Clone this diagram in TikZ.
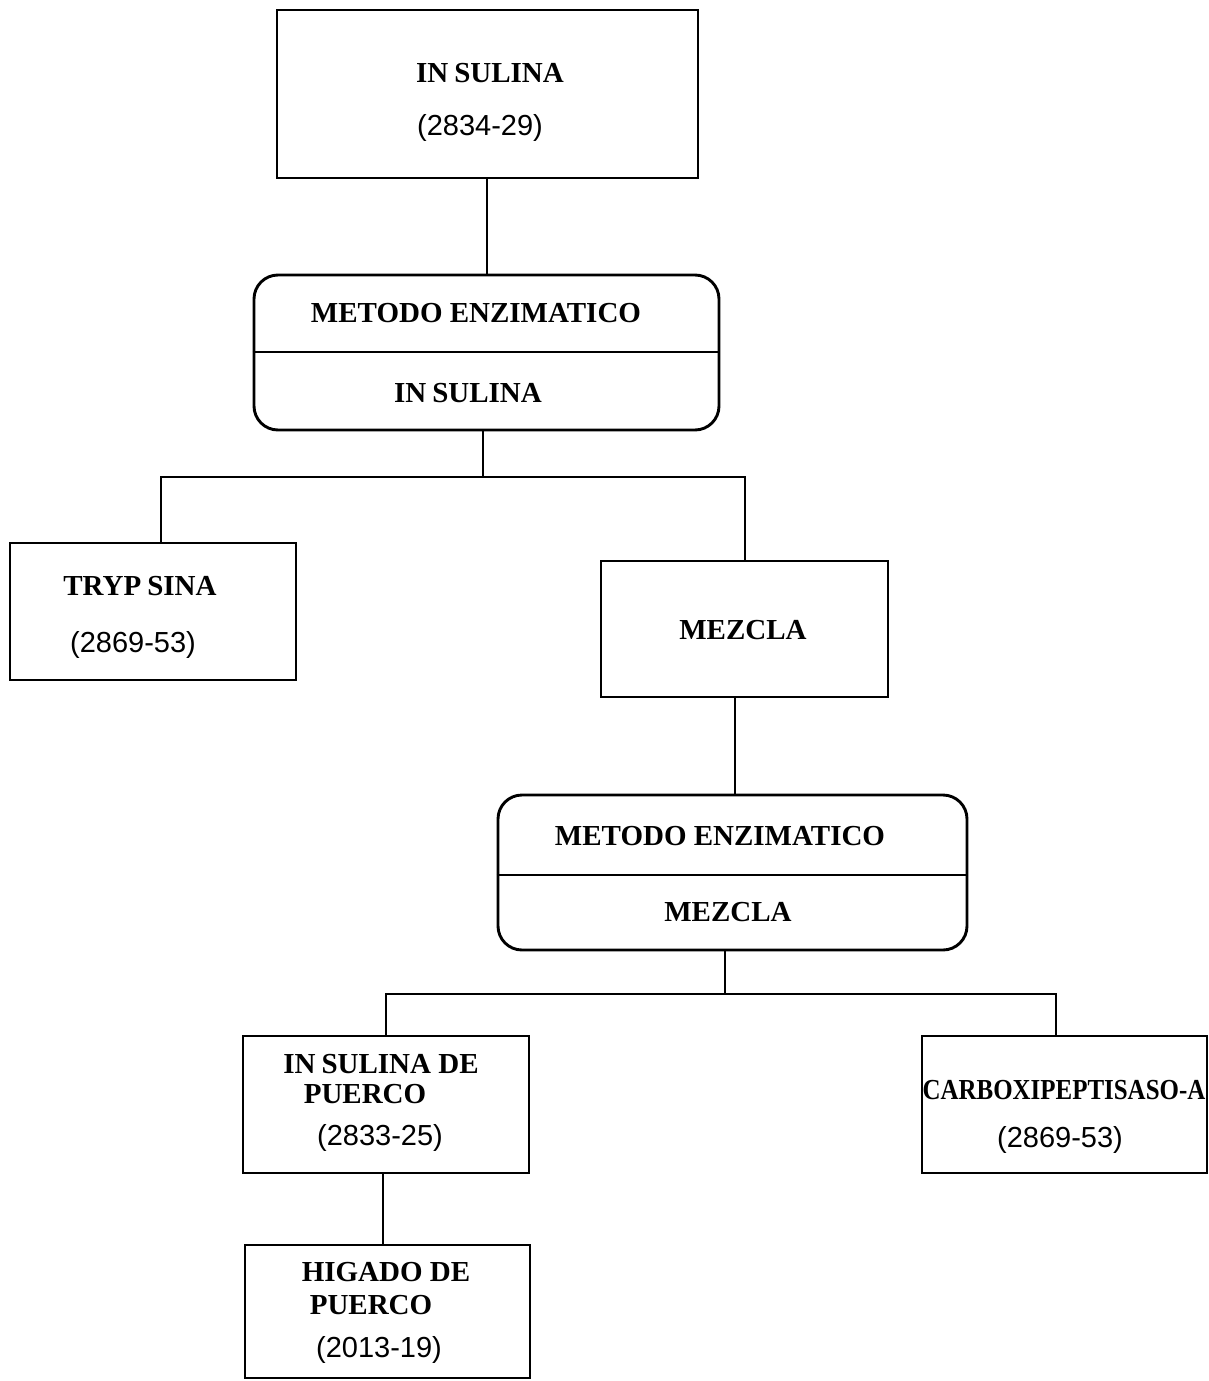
\documentclass[tikz,border=0pt]{standalone}
\usepackage{fontspec}
\setmainfont{Liberation Serif}
\newfontfamily\numfont{Liberation Sans}
\begin{document}
\begin{tikzpicture}[x=0.5pt,y=-0.5pt,
  box/.style={draw,line width=1.45pt,rectangle,inner sep=0pt},
  rbox/.style={draw,line width=1.45pt,rectangle,rounded corners=12pt,inner sep=0pt},
  lbl/.style={font=\fontsize{14.5}{16}\selectfont\bfseries,inner sep=0pt},
  num/.style={font=\numfont\fontsize{14.5}{16}\selectfont,inner sep=0pt},
  link/.style={line width=1.45pt}]
\useasboundingbox (0,0) rectangle (1209,1381);

% boxes
\node[box] (top) at (487.5,94) [minimum width=210.5pt,minimum height=84pt] {};
\node[rbox] (rb1) at (486.5,352.5) [minimum width=232.5pt,minimum height=77.5pt] {};
\node[box] (tryp) at (153,611.5) [minimum width=143pt,minimum height=68.5pt] {};
\node[box] (mez) at (744.5,629) [minimum width=143.5pt,minimum height=68pt] {};
\node[rbox] (rb2) at (732.5,872.5) [minimum width=234.5pt,minimum height=77.5pt] {};
\node[box] (ipu) at (386,1104.5) [minimum width=143pt,minimum height=68.5pt] {};
\node[box] (carb) at (1064.5,1104.5) [minimum width=142.5pt,minimum height=68.5pt] {};
\node[box] (hig) at (387.5,1311.5) [minimum width=142.5pt,minimum height=66.5pt] {};

% dividers inside the rounded boxes
\coordinate (d1) at (0,352);
\coordinate (d2) at (0,875);
\draw[link] (rb1.west |- d1) -- (rb1.east |- d1);
\draw[link] (rb2.west |- d2) -- (rb2.east |- d2);

% texts
\node[lbl] (t1a) at (490,73) {IN\kern3pt SULINA};
\node[num] (t1b) at (480,128) {(2834-29)};
\node[lbl] (r1a) at (476,313) {METODO ENZIMATICO};
\node[lbl] (r1b) at (468,393) {IN\kern3pt SULINA};
\node[lbl] (tra) at (140,586) {TRYP\kern3pt SINA};
\node[num] (trb) at (133,645) {(2869-53)};
\node[lbl] (mza) at (743,630) {MEZCLA};
\node[lbl] (r2a) at (720,836) {METODO ENZIMATICO};
\node[lbl] (r2b) at (728,912) {MEZCLA};
\node[lbl] (ipa) at (381,1064) {IN\kern3pt SULINA DE};
\node[lbl] (ipb) at (365,1094) {PUERCO};
\node[num] (ipc) at (380,1138) {(2833-25)};
\node[lbl] (caa) at (1064,1090) {\scalebox{0.86}[1]{CARBOXIPEPTISASO-A}};
\node[num] (cab) at (1060,1140) {(2869-53)};
\node[lbl] (hia) at (386,1272) {HIGADO DE};
\node[lbl] (hib) at (371,1305) {PUERCO};
\node[num] (hic) at (379,1350) {(2013-19)};

% connectors
\coordinate (c1) at (487,0);
\draw[link] (top.south -| c1) -- (rb1.north -| c1);
\coordinate (j1) at (483,477);
\coordinate (jl) at (161,477);
\coordinate (jr) at (745,477);
\draw[link] (rb1.south -| j1) -- (j1);
\draw[link] (tryp.north -| jl) -- (jl) -- (jr) -- (mez.north -| jr);
\coordinate (c2) at (735,0);
\draw[link] (mez.south -| c2) -- (rb2.north -| c2);
\coordinate (j2) at (725,994);
\coordinate (kl) at (386,994);
\coordinate (kr) at (1056,994);
\draw[link] (rb2.south -| j2) -- (j2);
\draw[link] (ipu.north -| kl) -- (kl) -- (kr) -- (carb.north -| kr);
\coordinate (c3) at (383,0);
\draw[link] (ipu.south -| c3) -- (hig.north -| c3);
\end{tikzpicture}
\end{document}
